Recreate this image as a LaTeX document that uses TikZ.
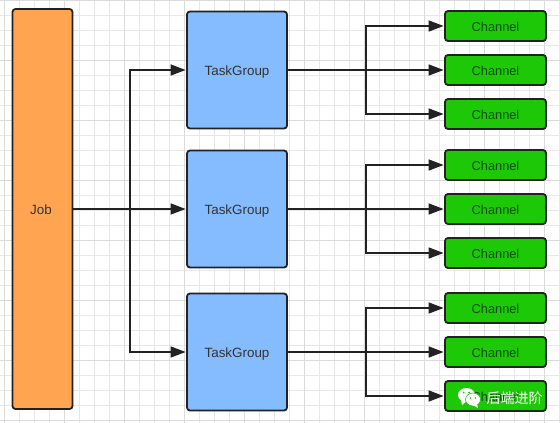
\documentclass[tikz,border=0pt]{standalone}
\usepackage{fontspec}
\setmainfont{Liberation Sans}
\newfontfamily\cjkfont{Noto Sans CJK SC}
\usetikzlibrary{arrows.meta}
\definecolor{JobFill}{HTML}{FFA552}
\definecolor{GroupFill}{HTML}{85BBFF}
\definecolor{ChannelFill}{HTML}{1DC806}
\definecolor{EdgeInk}{HTML}{222222}
\definecolor{LabelInk}{HTML}{333333}
\definecolor{ChannelInk}{HTML}{0B4F06}

\begin{document}
\begin{tikzpicture}[x=1pt, y=-1pt]
\useasboundingbox (0,0) rectangle (560,423);

\tikzset{GridStyle/.style = {draw=black!9, line width=0.8pt, y=1pt} }
\tikzset{MajorStyle/.style = {draw=black!14, line width=0.9pt, y=1pt} }

\fill[white] (0,0) rectangle (560,423);
\draw[GridStyle, xshift=4.3pt, step=15] (-4.3,-423) grid (555.7,0);
\draw[MajorStyle, xshift=4.3pt, step=60] (-4.3,-423) grid (555.7,0);

\tikzset{BoxStyle/.style = {
 draw = EdgeInk,
 line width = 1.8pt,
 rounded corners = 3pt,
 inner sep = 0pt,
 text height = 10.4pt,
 text depth = 0pt,
 text = LabelInk,
 font = \fontsize{13.4}{15}\selectfont} }
\tikzset{JobStyle/.style = {BoxStyle, fill = JobFill, minimum width = 60pt, minimum height = 400pt} }
\tikzset{GroupStyle/.style = {BoxStyle, fill = GroupFill, minimum width = 100pt, minimum height = 117pt} }
\tikzset{ChannelStyle/.style = {BoxStyle, fill = ChannelFill, text = ChannelInk, minimum width = 101pt, minimum height = 30pt, font = \fontsize{12.8}{15}\selectfont} }

\node[JobStyle] (J) at (42.5,209) {\hspace{-3pt}Job};

\node[GroupStyle] (G1) at (237,70) {TaskGroup};
\node[GroupStyle] (G2) at (237,209) {TaskGroup};
\node[GroupStyle] (G3) at (237,352) {TaskGroup};

\node[ChannelStyle] (C1_1) at (495.5,26) {Channel};
\node[ChannelStyle] (C1_2) at (495.5,70) {Channel};
\node[ChannelStyle] (C1_3) at (495.5,114) {Channel};
\node[ChannelStyle] (C2_1) at (495.5,165) {Channel};
\node[ChannelStyle] (C2_2) at (495.5,209) {Channel};
\node[ChannelStyle] (C2_3) at (495.5,253) {Channel};
\node[ChannelStyle] (C3_1) at (495.5,308) {Channel};
\node[ChannelStyle] (C3_2) at (495.5,352) {Channel};
\node[ChannelStyle] (C3_3) at (495.5,396) {Channel};

\coordinate (B0) at (130,209);
\coordinate (B1) at (366,70);
\coordinate (B2) at (366,209);
\coordinate (B3) at (366,352);

\tikzset{EdgeStyle/.style = {
 draw = EdgeInk,
 line width = 1.5pt,
 -{Triangle[length=15pt, width=11pt]},
 shorten >= 0.5pt} }

\draw[EdgeStyle] (J.east) -- (G2.west);
\draw[EdgeStyle] (B0) |- (G1.west);
\draw[EdgeStyle] (B0) |- (G3.west);

\draw[EdgeStyle] (G1.east) -- (C1_2.west);
\draw[EdgeStyle] (B1) |- (C1_1.west);
\draw[EdgeStyle] (B1) |- (C1_3.west);
\draw[EdgeStyle] (G2.east) -- (C2_2.west);
\draw[EdgeStyle] (B2) |- (C2_1.west);
\draw[EdgeStyle] (B2) |- (C2_3.west);
\draw[EdgeStyle] (G3.east) -- (C3_2.west);
\draw[EdgeStyle] (B3) |- (C3_1.west);
\draw[EdgeStyle] (B3) |- (C3_3.west);

% watermark
\fill[white] (466.5,395) ellipse (8.5pt and 7pt);
\fill[white] (461,400) -- (462,405) -- (467,401) -- cycle;
\fill[white, draw=ChannelFill, line width=0.6pt] (473,399.5) ellipse (7.5pt and 6.5pt);
\fill[white] (477,404) -- (478,408) -- (473,405) -- cycle;
\fill[ChannelFill] (463.5,392.5) circle (1pt) (469,392.5) circle (1pt);
\fill[ChannelFill] (470.5,398) circle (0.8pt) (475.5,398) circle (0.8pt);
\node[text=white, font=\cjkfont\fontsize{14}{16}\selectfont, inner sep=0pt] (W) at (514.5,398) {后端进阶};
\end{tikzpicture}
\end{document}
